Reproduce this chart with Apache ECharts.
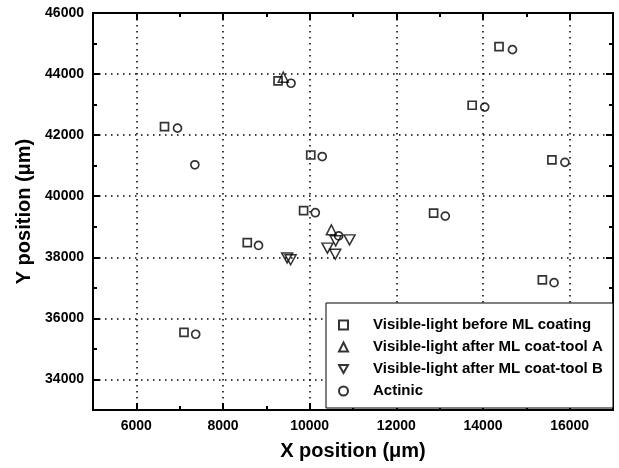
<!DOCTYPE html>
<html>
<head>
<meta charset="utf-8">
<script src="https://cdn.jsdelivr.net/npm/echarts@6/dist/echarts.min.js"></script>
<style>
  html, body { margin: 0; padding: 0; background: #fff; }
  #chart { width: 619px; height: 468px; }
</style>
</head>
<body>
<div id="chart"></div>
<script>
// [x, y] in um
var beforeCoating = [
  [6650, 42280], [9270, 43780], [10025, 41350], [9860, 39530], [8560, 38480],
  [13750, 42980], [14370, 44900], [15590, 41190], [12860, 39450], [15370, 37260],
  [7100, 35540]
]
var afterToolA = [
  [9390, 43900], [10500, 38900]
]
var afterToolB = [
  [9480, 37980], [9560, 37920], [10600, 38540], [10920, 38570], [10410, 38300],
  [10590, 38100]
]
var actinic = [
  [6950, 42230], [7350, 41030], [9570, 43700], [10290, 41300], [10130, 39460],
  [8820, 38390], [14040, 42920], [14680, 44800], [15890, 41110], [13130, 39350],
  [15640, 37170], [7370, 35480], [10670, 38700]
]
var seriesNames = [
  'Visible-light before ML coating',
  'Visible-light after ML coat-tool A',
  'Visible-light after ML coat-tool B',
  'Actinic'
]
var xRange = [5000, 17000]
var yRange = [33000, 46000]

var font = 'Liberation Sans'
var black = '#000'
var hollow = 'rgba(0,0,0,0)'
var downTriangle = 'path://M0,0 L10,0 L5,9 Z'

function majorAxis(pos, withLabels, range, extra) {
  var ax = {
    type: 'value',
    position: pos,
    min: range[0],
    max: range[1],
    splitNumber: 6,
    axisLine: { show: false, onZero: false },
    axisTick: { show: true, inside: true, length: 7, lineStyle: { color: black, width: 2 } },
    axisLabel: { show: false },
    splitLine: { show: false }
  }
  if (withLabels) {
    ax.axisLabel = {
      show: true,
      showMinLabel: false,
      color: black,
      fontFamily: font,
      fontWeight: 'bold',
      fontSize: 14,
      margin: 9,
      formatter: function (v) { return String(v) }
    }
    ax.splitLine = {
      show: true,
      lineStyle: { color: black, width: 1.5, type: [1.5, 4.5] }
    }
  }
  return Object.assign(ax, extra || {})
}

function minorAxis(pos, range) {
  return {
    type: 'value',
    position: pos,
    min: range[0],
    max: range[1],
    interval: 1000,
    axisLine: { show: false, onZero: false },
    axisTick: { show: true, inside: true, length: 4, lineStyle: { color: black, width: 2 } },
    axisLabel: { show: false },
    splitLine: { show: false }
  }
}

var titleStyle = { color: black, fontFamily: font, fontWeight: 'bold', fontSize: 20 }

var chart = echarts.init(document.getElementById('chart'))
var xMain = majorAxis('bottom', true, xRange, {
  name: 'X position (\u03bcm)', nameLocation: 'middle', nameGap: 31, nameTextStyle: titleStyle
})
xMain.axisLabel.showMaxLabel = false

chart.setOption({
  animation: false,
  backgroundColor: '#fff',
  grid: {
    left: 93, right: 6, top: 13, bottom: 58,
    outerBoundsMode: 'none',
    containLabel: false,
    show: true, borderColor: black, borderWidth: 2
  },
  xAxis: [
    xMain,
    minorAxis('bottom', xRange),
    majorAxis('top', false, xRange),
    minorAxis('top', xRange)
  ],
  yAxis: [
    majorAxis('left', true, yRange, {
      name: 'Y position (\u03bcm)', nameLocation: 'middle', nameGap: 58, nameTextStyle: titleStyle
    }),
    minorAxis('left', yRange),
    majorAxis('right', false, yRange),
    minorAxis('right', yRange)
  ],
  graphic: [{
    type: 'rect',
    z: 3,
    shape: { x: 326, y: 303, width: 287, height: 105 },
    style: { fill: '#fff', stroke: black, lineWidth: 1 }
  }],
  legend: {
    orient: 'vertical',
    left: 326,
    top: 303,
    padding: [13, 8, 8, 12],
    itemGap: 4,
    itemWidth: 9,
    itemHeight: 9,
    z: 4,
    data: [
      { name: seriesNames[0] },
      { name: seriesNames[1] },
      { name: seriesNames[2], icon: downTriangle },
      { name: seriesNames[3] }
    ],
    textStyle: {
      color: black, fontFamily: font, fontWeight: 'bold', fontSize: 15,
      lineHeight: 18, padding: [0, 0, 0, 20]
    }
  },
  series: [
    {
      name: seriesNames[0], type: 'scatter', data: beforeCoating,
      symbol: 'rect', symbolSize: 8,
      itemStyle: { color: hollow, borderColor: black, borderWidth: 1.7 }
    },
    {
      name: seriesNames[1], type: 'scatter', data: afterToolA,
      symbol: 'triangle', symbolSize: 10,
      itemStyle: { color: hollow, borderColor: black, borderWidth: 1.5 }
    },
    {
      name: seriesNames[2], type: 'scatter', data: afterToolB,
      symbol: downTriangle, symbolSize: [11, 10],
      itemStyle: { color: hollow, borderColor: black, borderWidth: 1.5 }
    },
    {
      name: seriesNames[3], type: 'scatter', data: actinic,
      symbol: 'circle', symbolSize: 8,
      itemStyle: { color: hollow, borderColor: black, borderWidth: 1.7 }
    }
  ]
})
</script>
</body>
</html>
